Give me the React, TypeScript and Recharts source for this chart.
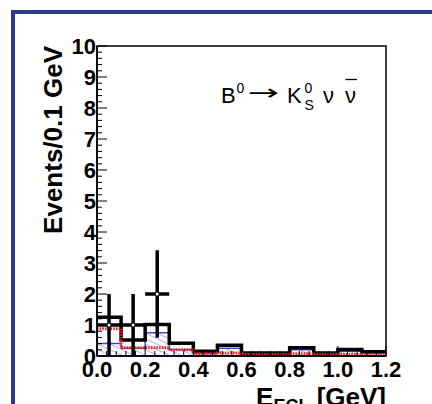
import React from 'react';
import {
  ComposedChart,
  XAxis,
  YAxis,
  Line,
  Area,
  Scatter,
  ErrorBar,
  ReferenceArea,
} from 'recharts';

// Histogram bin edges (GeV) and per-bin contents
const binEdges = [0.0, 0.1, 0.2, 0.3, 0.4, 0.5, 0.6, 0.7, 0.8, 0.9, 1.0, 1.1, 1.2];
const histTotal = [1.25, 0.52, 1.02, 0.41, 0.15, 0.35, 0.1, 0.1, 0.27, 0.1, 0.21, 0.14];
const histHatched = [0.4, 0.25, 0.75, 0.2, 0.08, 0.25, 0.05, 0.05, 0.2, 0.05, 0.15, 0.1];
const histDotted = [0.88, 0.27, 0.27, 0.2, 0.07, 0.1, 0.05, 0.05, 0.07, 0.05, 0.06, 0.04];

// Observed events with statistical errors
const dataX = [0.05, 0.15, 0.25];
const dataY = [1, 1, 2];
const dataErr = [1, 1, 1.41];
const binHalfWidth = 0.05;

// Axis ticks
const yMajorTicks = [0, 1, 2, 3, 4, 5, 6, 7, 8, 9, 10];
const xMajorTicks = [0.0, 0.2, 0.4, 0.6, 0.8, 1.0, 1.2];

const yTicks: number[] = [];
yMajorTicks.slice(0, -1).forEach((v) => {
  for (let k = 0; k < 5; k++) yTicks.push(Math.round((v + k * 0.2) * 100) / 100);
});
yTicks.push(10);

const xTicks: number[] = [];
xMajorTicks.slice(0, -1).forEach((v) => {
  for (let k = 0; k < 5; k++) xTicks.push(Math.round((v + k * 0.04) * 1000) / 1000);
});
xTicks.push(1.2);

const nBins = histTotal.length;
const histRows = binEdges.map((edge, i) => {
  const j = Math.min(i, nBins - 1);
  return { x: edge, total: histTotal[j], hatched: histHatched[j], dotted: histDotted[j] };
});

const points = dataX.map((x, i) => ({ x, y: dataY[i], ey: dataErr[i], ex: binHalfWidth }));

const FONT = '"Liberation Sans", Arial, Helvetica, sans-serif';

const isMultiple = (v: number, step: number) => Math.abs(v / step - Math.round(v / step)) < 1e-6;

const YTick = (props: any) => {
  const { x, y, payload } = props;
  const v = payload.value as number;
  const major = isMultiple(v, 1);
  return (
    <g>
      <line x1={x} x2={x + (major ? 10 : 5)} y1={y} y2={y} stroke="#000" strokeWidth={1} />
      {major && (
        <text x={x - 1} y={y} dy="0.36em" textAnchor="end" fontFamily={FONT} fontWeight="bold" fontSize={22} fill="#000">
          {v}
        </text>
      )}
    </g>
  );
};

const XTick = (props: any) => {
  const { x, y, payload } = props;
  const v = payload.value as number;
  const major = isMultiple(v, 0.2);
  return (
    <g>
      <line x1={x} x2={x} y1={y} y2={y - (major ? 10 : 5)} stroke="#000" strokeWidth={1} />
      {major && (
        <text x={x} y={y + 21} textAnchor="middle" fontFamily={FONT} fontWeight="bold" fontSize={22} fill="#000">
          {v.toFixed(1)}
        </text>
      )}
    </g>
  );
};

const YTitle = (props: any) => {
  const { viewBox } = props;
  const tx = viewBox.x + 25;
  const ty = viewBox.y;
  return (
    <text
      transform={`translate(${tx},${ty}) rotate(-90)`}
      textAnchor="end"
      fontFamily={FONT}
      fontWeight="bold"
      fontSize={26}
      fill="#000"
    >
      Events/0.1 GeV
    </text>
  );
};

const XTitle = (props: any) => {
  const { viewBox } = props;
  const tx = viewBox.x + viewBox.width;
  const ty = viewBox.y + 50;
  return (
    <text x={tx} y={ty} textAnchor="end" fontFamily={FONT} fontWeight="bold" fontSize={26} fill="#000">
      E
      <tspan fontSize={18} dy={6}>ECL</tspan>
      <tspan dy={-6}> [GeV]</tspan>
    </text>
  );
};

const DataMarker = (props: any) => {
  const { cx, cy } = props;
  return <circle cx={cx} cy={cy} r={1.5} fill="#fff" />;
};

export default function App() {
  return (
    <div style={{ position: 'absolute', left: 0, top: 0, width: 432, height: 404, background: '#fff' }}>
      <ComposedChart
        width={432}
        height={404}
        data={histRows}
        margin={{ top: 46, right: 46, bottom: 8, left: 37 }}
      >
        <defs>
          <pattern id="hatch" patternUnits="userSpaceOnUse" width={6} height={5} patternTransform="rotate(25)">
            <line x1={0} y1={0} x2={6} y2={0} stroke="#4f4fd8" strokeWidth={0.9} />
          </pattern>
        </defs>
        <rect x={13} y={12} width={600} height={600} fill="none" stroke="#2b3c8e" strokeWidth={4} />
        <XAxis
          type="number"
          dataKey="x"
          domain={[0, 1.2]}
          ticks={xTicks}
          interval={0}
          tickSize={0}
          tickMargin={0}
          tickLine={false}
          tick={<XTick />}
          axisLine={{ stroke: '#000', strokeWidth: 1.5 }}
          height={40}
          allowDataOverflow
          label={<XTitle />}
        />
        <YAxis
          type="number"
          domain={[0, 10]}
          ticks={yTicks}
          interval={0}
          tickSize={0}
          tickMargin={0}
          tickLine={false}
          tick={<YTick />}
          axisLine={{ stroke: '#000', strokeWidth: 1.5 }}
          width={60}
          allowDataOverflow
          label={<YTitle />}
        />
        <ReferenceArea x1={0} x2={1.2} y1={0} y2={10} fill="none" stroke="#000" strokeWidth={1.5} fillOpacity={0} />
        <Line
          type="stepAfter"
          dataKey="total"
          stroke="#000"
          strokeWidth={3.5}
          dot={false}
          isAnimationActive={false}
        />
        <Area
          type="stepAfter"
          dataKey="hatched"
          stroke="#4646cc"
          strokeWidth={1.5}
          fill="url(#hatch)"
          fillOpacity={1}
          isAnimationActive={false}
        />
        <Line
          type="stepAfter"
          dataKey="dotted"
          stroke="#ff1a1a"
          strokeWidth={3}
          strokeDasharray="1.5 1.2"
          dot={false}
          isAnimationActive={false}
        />
        <Scatter data={points} dataKey="y" shape={<DataMarker />} isAnimationActive={false}>
          <ErrorBar dataKey="ey" direction="y" width={0} stroke="#000" strokeWidth={3.5} />
          <ErrorBar dataKey="ex" direction="x" width={0} stroke="#000" strokeWidth={3.5} />
        </Scatter>
        {/* decay-mode annotation */}
        <g fontFamily={FONT} fill="#000">
          <text x={221} y={103} fontSize={22}>B</text>
          <text x={236.5} y={93} fontSize={14}>0</text>
          <text
            transform="translate(248,99.5) scale(1.7,1)"
            fontFamily='"DejaVu Sans", sans-serif'
            fontSize={22}
          >
            {'\u2192'}
          </text>
          <text x={287} y={103} fontSize={22}>K</text>
          <text x={304.5} y={93} fontSize={14}>0</text>
          <text x={304.5} y={110} fontSize={14}>S</text>
          <text x={323} y={103} fontSize={22}>{'\u03BD'}</text>
          <text x={345} y={103} fontSize={22}>{'\u03BD'}</text>
          <line x1={345.5} x2={357} y1={79.5} y2={79.5} stroke="#000" strokeWidth={1.3} />
        </g>
      </ComposedChart>
    </div>
  );
}
